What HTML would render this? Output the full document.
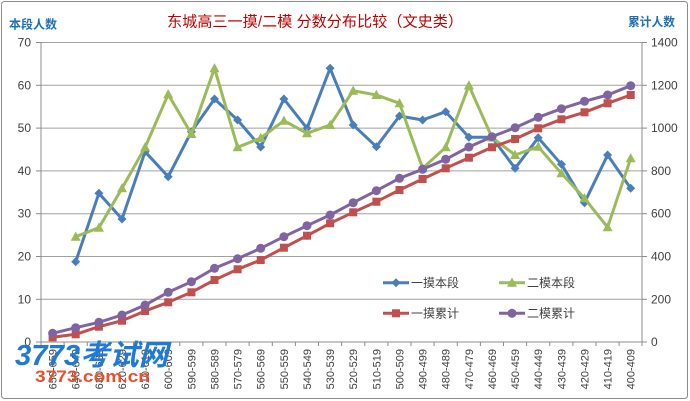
<!DOCTYPE html>
<html><head><meta charset="utf-8">
<style>
html,body{margin:0;padding:0;background:#fff;}
svg{display:block;}
text{font-family:"Liberation Sans","Noto Sans CJK SC",sans-serif;}
</style></head>
<body>
<svg width="690" height="401" viewBox="0 0 690 401" xmlns="http://www.w3.org/2000/svg">
<defs>
<marker id="mdia" markerUnits="userSpaceOnUse" markerWidth="12" markerHeight="12" refX="6" refY="6" overflow="visible">
<path d="M6 1.5 L10.5 6 L6 10.5 L1.5 6 Z" fill="#4A7EBB"/>
</marker>
<marker id="mtri" markerUnits="userSpaceOnUse" markerWidth="12" markerHeight="12" refX="6" refY="6" overflow="visible">
<path d="M6 0.8 L11 10 L1 10 Z" fill="#9BBB59"/>
</marker>
<marker id="msq" markerUnits="userSpaceOnUse" markerWidth="12" markerHeight="12" refX="6" refY="6" overflow="visible">
<rect x="2" y="2" width="8" height="8" fill="#C0504D"/>
</marker>
<marker id="mcir" markerUnits="userSpaceOnUse" markerWidth="12" markerHeight="12" refX="6" refY="6" overflow="visible">
<circle cx="6" cy="6" r="4.5" fill="#8064A2"/>
</marker>
</defs>
<rect x="0" y="0" width="690" height="401" fill="#fff"/>
<rect x="1.5" y="1.5" width="686" height="397" rx="3" fill="none" stroke="#8C8C8C" stroke-width="1"/>

<!-- gridlines -->
<g stroke="#A0A0A0" stroke-width="1">
<line x1="41" y1="42.5" x2="642" y2="42.5"/>
<line x1="41" y1="85.3" x2="642" y2="85.3"/>
<line x1="41" y1="128.1" x2="642" y2="128.1"/>
<line x1="41" y1="170.9" x2="642" y2="170.9"/>
<line x1="41" y1="213.7" x2="642" y2="213.7"/>
<line x1="41" y1="256.5" x2="642" y2="256.5"/>
<line x1="41" y1="299.3" x2="642" y2="299.3"/>
</g>
<!-- axes -->
<g stroke="#8C8C8C" stroke-width="1">
<line x1="41" y1="42" x2="41" y2="342"/>
<line x1="642" y1="42" x2="642" y2="342"/>
<line x1="41" y1="342" x2="642" y2="342"/>
<line x1="36" y1="42.5" x2="41" y2="42.5"/><line x1="36" y1="85.3" x2="41" y2="85.3"/><line x1="36" y1="128.1" x2="41" y2="128.1"/><line x1="36" y1="170.9" x2="41" y2="170.9"/><line x1="36" y1="213.7" x2="41" y2="213.7"/><line x1="36" y1="256.5" x2="41" y2="256.5"/><line x1="36" y1="299.3" x2="41" y2="299.3"/><line x1="36" y1="342" x2="41" y2="342"/>
<line x1="642" y1="42.5" x2="647" y2="42.5"/><line x1="642" y1="85.3" x2="647" y2="85.3"/><line x1="642" y1="128.1" x2="647" y2="128.1"/><line x1="642" y1="170.9" x2="647" y2="170.9"/><line x1="642" y1="213.7" x2="647" y2="213.7"/><line x1="642" y1="256.5" x2="647" y2="256.5"/><line x1="642" y1="299.3" x2="647" y2="299.3"/><line x1="642" y1="342" x2="647" y2="342"/>
<line x1="41" y1="342" x2="41" y2="346"/><line x1="64.1" y1="342" x2="64.1" y2="346"/><line x1="87.3" y1="342" x2="87.3" y2="346"/><line x1="110.4" y1="342" x2="110.4" y2="346"/><line x1="133.5" y1="342" x2="133.5" y2="346"/><line x1="156.6" y1="342" x2="156.6" y2="346"/><line x1="179.8" y1="342" x2="179.8" y2="346"/><line x1="202.9" y1="342" x2="202.9" y2="346"/><line x1="226" y1="342" x2="226" y2="346"/><line x1="249.1" y1="342" x2="249.1" y2="346"/><line x1="272.3" y1="342" x2="272.3" y2="346"/><line x1="295.4" y1="342" x2="295.4" y2="346"/><line x1="318.5" y1="342" x2="318.5" y2="346"/><line x1="341.6" y1="342" x2="341.6" y2="346"/><line x1="364.8" y1="342" x2="364.8" y2="346"/><line x1="387.9" y1="342" x2="387.9" y2="346"/><line x1="411" y1="342" x2="411" y2="346"/><line x1="434.1" y1="342" x2="434.1" y2="346"/><line x1="457.3" y1="342" x2="457.3" y2="346"/><line x1="480.4" y1="342" x2="480.4" y2="346"/><line x1="503.5" y1="342" x2="503.5" y2="346"/><line x1="526.6" y1="342" x2="526.6" y2="346"/><line x1="549.8" y1="342" x2="549.8" y2="346"/><line x1="572.9" y1="342" x2="572.9" y2="346"/><line x1="596" y1="342" x2="596" y2="346"/><line x1="619.1" y1="342" x2="619.1" y2="346"/><line x1="642" y1="342" x2="642" y2="346"/>
</g>

<!-- left labels -->
<g font-size="12" fill="#404040" text-anchor="end">
<text x="31" y="46.5">70</text>
<text x="31" y="89.3">60</text>
<text x="31" y="132.1">50</text>
<text x="31" y="174.9">40</text>
<text x="31" y="217.7">30</text>
<text x="31" y="260.5">20</text>
<text x="31" y="303.3">10</text>
<text x="31" y="346">0</text>
</g>
<!-- right labels -->
<g font-size="12" fill="#404040">
<text x="651" y="46.5">1400</text>
<text x="651" y="89.3">1200</text>
<text x="651" y="132.1">1000</text>
<text x="651" y="174.9">800</text>
<text x="651" y="217.7">600</text>
<text x="651" y="260.5">400</text>
<text x="651" y="303.3">200</text>
<text x="651" y="346">0</text>
</g>

<!-- x labels -->
<g font-size="11" fill="#404040" text-anchor="end">
<text transform="translate(56.6,349) rotate(-90)">650-659</text>
<text transform="translate(79.7,349) rotate(-90)">640-649</text>
<text transform="translate(102.9,349) rotate(-90)">630-639</text>
<text transform="translate(126,349) rotate(-90)">620-629</text>
<text transform="translate(149.1,349) rotate(-90)">610-619</text>
<text transform="translate(172.2,349) rotate(-90)">600-609</text>
<text transform="translate(195.4,349) rotate(-90)">590-599</text>
<text transform="translate(218.5,349) rotate(-90)">580-589</text>
<text transform="translate(241.6,349) rotate(-90)">570-579</text>
<text transform="translate(264.7,349) rotate(-90)">560-569</text>
<text transform="translate(287.9,349) rotate(-90)">550-559</text>
<text transform="translate(311,349) rotate(-90)">540-549</text>
<text transform="translate(334.1,349) rotate(-90)">530-539</text>
<text transform="translate(357.2,349) rotate(-90)">520-529</text>
<text transform="translate(380.4,349) rotate(-90)">510-519</text>
<text transform="translate(403.5,349) rotate(-90)">500-509</text>
<text transform="translate(426.6,349) rotate(-90)">490-499</text>
<text transform="translate(449.7,349) rotate(-90)">480-489</text>
<text transform="translate(472.9,349) rotate(-90)">470-479</text>
<text transform="translate(496,349) rotate(-90)">460-469</text>
<text transform="translate(519.1,349) rotate(-90)">450-459</text>
<text transform="translate(542.2,349) rotate(-90)">440-449</text>
<text transform="translate(565.4,349) rotate(-90)">430-439</text>
<text transform="translate(588.5,349) rotate(-90)">420-429</text>
<text transform="translate(611.6,349) rotate(-90)">410-419</text>
<text transform="translate(634.7,349) rotate(-90)">400-409</text>
</g>

<!-- series -->
<g fill="none" stroke-width="3" stroke-linejoin="round">
<polyline stroke="#4A7EBB" marker-start="url(#mdia)" marker-mid="url(#mdia)" marker-end="url(#mdia)"
points="75.7,261.7 98.9,193.3 122,219 145.1,151.7 168.2,176.7 191.4,131.7 214.5,99 237.6,120 260.7,147 283.9,99 307,128.3 330.1,68.3 353.2,125 376.4,146.7 399.5,116 422.6,120 445.7,111.7 468.9,137.3 492,137.3 515.1,168.3 538.2,137.7 561.4,164.3 584.5,202.7 607.6,155 630.7,188.3"/>
<polyline stroke="#9BBB59" marker-start="url(#mtri)" marker-mid="url(#mtri)" marker-end="url(#mtri)"
points="75.7,236.7 98.9,227.7 122,188.3 145.1,147.3 168.2,94.3 191.4,134 214.5,68.3 237.6,147.3 260.7,138 283.9,120.7 307,133.3 330.1,125 353.2,90.7 376.4,95 399.5,103.3 422.6,168.3 445.7,147.3 468.9,85.5 492,137.5 515.1,155 538.2,146.7 561.4,173.3 584.5,198.3 607.6,227.3 630.7,158.3"/>
<polyline stroke="#C0504D" marker-start="url(#msq)" marker-mid="url(#msq)" marker-end="url(#msq)"
points="52.6,337.3 75.7,334.3 98.9,326.7 122,320.7 145.1,311 168.2,302.3 191.4,292.3 214.5,280 237.6,269.3 260.7,260 283.9,247.7 307,235.7 330.1,223.3 353.2,212.3 376.4,201.7 399.5,190 422.6,179 445.7,168.3 468.9,157.7 492,147.3 515.1,139 538.2,128.3 561.4,119.3 584.5,112.3 607.6,103.3 630.7,95"/>
<polyline stroke="#8064A2" marker-start="url(#mcir)" marker-mid="url(#mcir)" marker-end="url(#mcir)"
points="52.6,333.3 75.7,327.7 98.9,322.3 122,315 145.1,305 168.2,292.3 191.4,281.7 214.5,268.3 237.6,258.7 260.7,248.3 283.9,236.7 307,225.7 330.1,215 353.2,202.7 376.4,190.7 399.5,178.3 422.6,169.3 445.7,159.3 468.9,147 492,136.7 515.1,127.7 538.2,117.3 561.4,108.7 584.5,101.3 607.6,95 630.7,85.7"/>
</g>

<!-- legend -->
<g stroke-width="3" fill="none">
<line x1="383" y1="282.7" x2="409" y2="282.7" stroke="#4A7EBB" marker-mid="url(#mdia)" marker-end="none"/>
<line x1="499" y1="282.7" x2="525" y2="282.7" stroke="#9BBB59"/>
<line x1="383" y1="313.3" x2="409" y2="313.3" stroke="#C0504D"/>
<line x1="499" y1="313.3" x2="525" y2="313.3" stroke="#8064A2"/>
</g>
<path d="M396 278.2 L400.5 282.7 L396 287.2 L391.5 282.7 Z" fill="#4A7EBB"/>
<path d="M512 277.5 L517 286.7 L507 286.7 Z" fill="#9BBB59"/>
<rect x="392" y="309.3" width="8" height="8" fill="#C0504D"/>
<circle cx="512" cy="313.3" r="4.5" fill="#8064A2"/>
<g font-size="12" fill="#404040">
<text x="411" y="287">一摸本段</text>
<text x="527" y="287">二模本段</text>
<text x="411" y="317.5">一摸累计</text>
<text x="527" y="317.5">二模累计</text>
</g>

<!-- titles -->
<text x="167" y="26.5" font-size="15" fill="#C00000" textLength="296" lengthAdjust="spacingAndGlyphs">东城高三一摸/二模 分数分布比较（文史类）</text>
<text x="9" y="28.5" font-size="12" font-weight="bold" fill="#1F6FB5" textLength="48" lengthAdjust="spacingAndGlyphs">本段人数</text>
<text x="628" y="26" font-size="12" font-weight="bold" fill="#1F6FB5" textLength="47" lengthAdjust="spacingAndGlyphs">累计人数</text>

<!-- watermark -->
<text x="15" y="365" font-size="29" font-weight="bold" font-style="italic" fill="#1E7AD6" textLength="153" lengthAdjust="spacingAndGlyphs">3773考试网</text>
<text x="35" y="382" font-size="17" font-weight="bold" fill="#E8502E" textLength="115" lengthAdjust="spacingAndGlyphs">3773.com.cn</text>
</svg>
</body></html>
